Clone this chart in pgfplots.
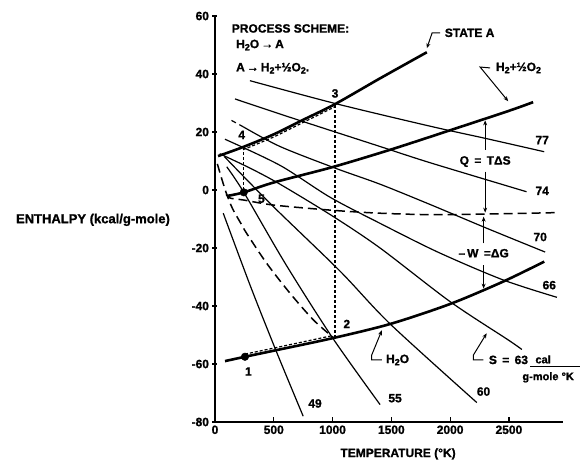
\documentclass[border=0pt]{standalone}
\usepackage{fontspec}
\setmainfont{Liberation Sans}[BoldFeatures={FakeBold=1.2}]
\usepackage{pgfplots}
\pgfplotsset{compat=1.18}
\usetikzlibrary{arrows.meta}
\newcommand\sub[1]{\raisebox{-0.35ex}{\fontsize{9}{9}\selectfont #1}}
\newcommand\f{\fontsize{12}{14}\selectfont\bfseries}
\begin{document}
\begin{tikzpicture}[every node/.style={font=\f}]
\path[use as bounding box] (-215pt,-40pt) rectangle (370pt,422pt);
\begin{axis}[
 at={(0,0)}, anchor=south west,
 width=348pt, height=406pt, scale only axis,
 xmin=0, xmax=2960, ymin=-80, ymax=60,
 axis x line*=bottom, axis y line*=left,
 axis line style={line width=1.6pt},
 xtick={0,500,1000,1500,2000,2500},
 ytick={-80,-60,-40,-20,0,20,40,60},
 tick style={line width=1.2pt, black},
 major tick length=5pt,
 xtick align=inside, ytick align=center,
 ticklabel style={font=\f},
 /pgf/number format/assume math mode=true,
 /pgf/number format/1000 sep={},
 clip=false,
]
% thick curves: State A, H2 + 1/2 O2, H2O
\addplot[black, line width=2.6pt, smooth] coordinates {(26,11.7)(238,14.8)(500,19.2)(750,24.2)(1025,29.7)(1404,38.5)(1802,47.5)};
\addplot[black, line width=2.6pt, smooth] coordinates {(110,-2)(246,-0.8)(500,2.6)(1000,7.9)(1500,14)(2000,20.6)(2500,27.3)(2706,30.3)};
\addplot[black, line width=2.6pt, smooth] coordinates {(85,-59)(255,-57.5)(525,-55.2)(1000,-51.1)(1490,-46.2)(2000,-39.3)(2450,-31.6)(2800,-24.7)};
% isentropes
\addplot[black, line width=1.2pt, smooth] coordinates {(297,37.7)(1025,29.8)(1830,22)(2300,17.8)(2800,13.2)};
\addplot[black, line width=1.2pt, smooth] coordinates {(170,31.4)(553,26.2)(1000,20.3)(1404,15)(1830,9.4)(2650,-0.6)};
\addplot[black, line width=1.2pt, dash pattern=on 5pt off 4pt] coordinates {(140,24)(240,21.8)};
\addplot[black, line width=1.2pt, smooth] coordinates {(240,21.8)(553,15)(1025,7.5)(1404,2)(1830,-5)(2300,-13)(2808,-21.4)};
\addplot[black, line width=1.2pt, smooth] coordinates {(85,17.5)(553,8.5)(979,-2.5)(1404,-11.5)(1900,-21.5)(2450,-31)(2908,-37)};
\addplot[black, line width=1.2pt, smooth] coordinates {(40,12.5)(300,7.5)(553,2)(1000,-9)(1404,-20)(2000,-38.5)(2494,-51.7)(2610,-55)};
\addplot[black, line width=1.2pt, smooth] coordinates {(80,11.5)(483,-5.2)(1064,-28)(1490,-46.2)(2227,-73.3)};
\addplot[black, line width=1.2pt, smooth] coordinates {(100,8)(245,-0.8)(600,-25.5)(1000,-51)(1404,-74)};
\addplot[black, line width=1.2pt, smooth] coordinates {(70,-8)(300,-33)(520,-55.5)(750,-78)};
% long dashed curves
\addplot[black, line width=1.5pt, smooth, dash pattern=on 9pt off 5pt] coordinates {(20,9)(60,3.5)(100,-1.5)(150,-6.5)(227,-12)(270,-15)(440,-25.3)(638,-35.6)(837,-44.8)(1010,-51)};
\addplot[black, line width=1.5pt, smooth, dash pattern=on 9pt off 5pt] coordinates {(95,-1.5)(130,-2.8)(250,-3.5)(500,-5.2)(1000,-7)(1400,-8)(1830,-8.5)(2300,-8.3)(2908,-7.8)};
% process path
\addplot[black, line width=1.2pt, dash pattern=on 3pt off 2pt] coordinates {(1020,-51)(1020,29.5)};
\addplot[black, line width=1.2pt, dash pattern=on 3pt off 2pt] coordinates {(240,14.8)(240,-0.8)};
\addplot[black, line width=1.2pt, smooth, dash pattern=on 3pt off 2pt] coordinates {(255,-56.6)(525,-54.3)(1000,-50.2)};
\addplot[black, line width=1.2pt, smooth, dash pattern=on 3pt off 2pt] coordinates {(238,13.9)(500,18.3)(750,23.3)(1025,28.8)};
\addplot[black, only marks, mark=*, mark size=3.8pt] coordinates {(255,-57.5)(245,-0.8)};
% text
\node[anchor=west] at (113,55.7) {PROCESS SCHEME:};
\node[anchor=west] at (150,50) {H\sub{2}O\,\textrightarrow\,A};
\node[anchor=west] at (150,42) {A\,\textrightarrow\,H\sub{2}+½O\sub{2}.};
\node[anchor=west] at (1925,54.2) {STATE A};
\draw[line width=1pt, -{Stealth[length=5pt,width=4pt]}] (1915,54.2) -- (1847,54.2) -- (1802,48.9);
\node[anchor=west] at (2360,42.1) {H\sub{2}+½O\sub{2}};
\draw[line width=1pt, -{Stealth[length=5pt,width=4pt]}] (2340,42.1) -- (2255,42.4) -- (2494,30.6);
\node at (2783,17.2) {77};
\node at (2783,-0.3) {74};
\node at (2766,-16.2) {70};
\node at (2843,-32.8) {66};
\node at (2284,-69.5) {60};
\node at (1532,-71.8) {55};
\node at (851,-73.6) {49};
\node at (284,-62.6) {1};
\node at (1121,-46.2) {2};
\node at (1021,33.3) {3};
\node at (227,19) {4};
\node at (395,-3) {5};
\node at (2298,9.8) {Q\, =\, TΔS};
\draw[line width=1pt, -{Stealth[length=5pt,width=4pt]}] (2298,13.8) -- (2298,24);
\draw[line width=1pt, -{Stealth[length=5pt,width=4pt]}] (2298,6.3) -- (2298,-7.8);
\node at (2285,-21.8) {–\,W\, =ΔG};
\draw[line width=1pt, -{Stealth[length=5pt,width=4pt]}] (2285,-18.4) -- (2285,-9.2);
\draw[line width=1pt, -{Stealth[length=5pt,width=4pt]}] (2285,-25.9) -- (2285,-34);
\node[anchor=west] at (1425,-58.6) {H\sub{2}O};
\draw[line width=1pt, -{Stealth[length=5pt,width=4pt]}] (1419,-58.6) -- (1333,-58.6) -- (1333,-56.9) -- (1419,-48.4);
\node[anchor=west] at (2300,-58.6) {S\, =\, 63};
\draw[line width=1pt, -{Stealth[length=5pt,width=4pt]}] (2283,-58.6) -- (2198,-58.6) -- (2198,-56.9) -- (2311,-49.4);
\node[font=\fontsize{11}{12}\selectfont\bfseries] at (2791,-58.4) {cal};
\draw[line width=1pt] (2681,-60.7) -- (3106,-60.7);
\node[font=\fontsize{11}{12}\selectfont\bfseries] at (2834,-64.6) {g-mole °K};
\node[font=\fontsize{13}{15}\selectfont\bfseries] at (-1038,-10.3) {ENTHALPY (kcal/g-mole)};
\node at (1557,-91) {TEMPERATURE (°K)};
\end{axis}
\end{tikzpicture}
\end{document}
